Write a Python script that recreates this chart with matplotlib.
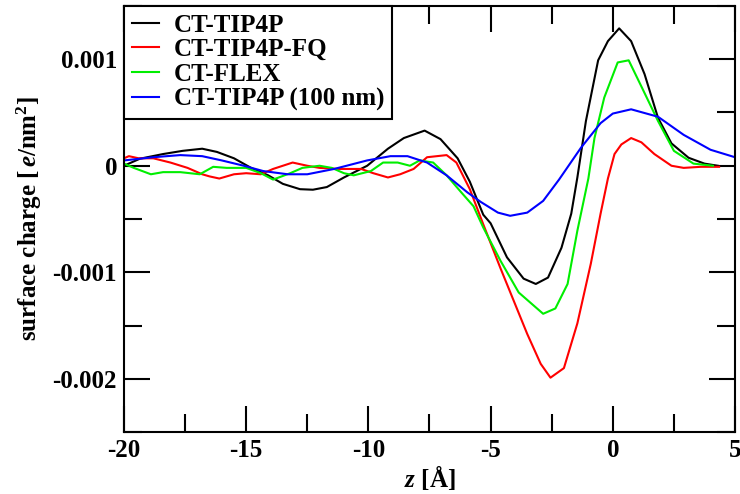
import matplotlib
matplotlib.use('Agg')
import matplotlib.pyplot as plt
import numpy as np

# CT-TIP4P
x_tip4p = [-20.0, -19.35, -18.4, -17.6, -16.8, -16.2, -15.5, -14.8, -14.1, -13.5, -12.8, -12.27,
           -11.7, -11.0, -10.05, -9.2, -8.55, -7.7, -7.05, -6.35, -5.85, -5.3, -5.0, -4.33,
           -3.65, -3.15, -2.65, -2.1, -1.7, -1.45, -1.1, -0.6, -0.2, 0.26, 0.75, 1.3, 1.85,
           2.4, 3.1, 3.75, 4.3]
y_tip4p = [0.0, 0.000066, 0.00011, 0.00014, 0.00016, 0.00013, 0.00007, -0.00002, -0.00009,
           -0.00017, -0.00022, -0.000225, -0.0002, -0.00011, 0.0, 0.00016, 0.00026, 0.00033,
           0.00025, 0.00007, -0.00015, -0.00046, -0.00054, -0.00086, -0.00106, -0.00111,
           -0.00105, -0.00077, -0.00045, -0.00011, 0.00042, 0.00099, 0.00117, 0.00129,
           0.00117, 0.00086, 0.00045, 0.00021, 0.000075, 0.00002, 0.0]

# CT-TIP4P-FQ
x_fq = [-20.0, -19.8, -19.4, -18.8, -18.1, -17.4, -16.8, -16.5, -16.1, -15.5, -15.0, -14.4,
        -13.9, -13.1, -12.5, -12.0, -11.2, -10.3, -9.8, -9.2, -8.7, -8.15, -7.6, -6.8,
        -6.4, -5.85, -5.3, -4.6, -4.05, -3.5, -2.95, -2.55, -2.0, -1.45, -0.9, -0.5, -0.2,
        0.07, 0.35, 0.75, 1.17, 1.7, 2.4, 2.9, 3.6, 4.35]
y_fq = [0.00007, 0.00009, 0.00007, 0.00007, 0.00003, -0.00002, -0.00008, -0.0001, -0.00012,
        -0.00008, -0.00007, -0.00008, -0.00003, 0.00003, 0.0, -0.00002, -0.00003, -0.00003,
        -0.00007, -0.00011, -0.00008, -0.00003, 0.00008, 0.0001, 0.00003, -0.00022, -0.00055,
        -0.00096, -0.00127, -0.00158, -0.00186, -0.00199, -0.0019, -0.00148, -0.00092,
        -0.00045, -0.00012, 0.00011, 0.0002, 0.00026, 0.00022, 0.00011, 0.0, -0.00002,
        -0.00001, -0.00001]

# CT-FLEX
x_flex = [-20.0, -19.6, -18.9, -18.4, -17.7, -16.9, -16.35, -15.8, -15.0, -14.4, -13.9, -13.2,
          -12.7, -12.0, -11.5, -11.0, -10.6, -9.9, -9.4, -8.8, -8.3, -7.9, -7.35, -6.8, -6.2,
          -5.7, -5.3, -4.6, -3.85, -2.85, -2.35, -1.85, -1.45, -1.0, -0.75, -0.35, 0.2, 0.65,
          1.2, 1.85, 2.5, 3.3, 4.1]
y_flex = [0.00002, -0.00002, -0.00008, -0.00006, -0.00006, -0.00008, -0.00001, -0.00002,
          -0.00002, -0.00007, -0.00013, -0.00007, -0.00002, 0.0, -0.00002, -0.00007, -0.00009,
          -0.00005, 0.00003, 0.00003, 0.0, 0.00005, 0.00003, -0.00009, -0.00025, -0.00038,
          -0.00058, -0.00089, -0.00119, -0.00139, -0.00134, -0.00111, -0.00061, -0.00012,
          0.00026, 0.00064, 0.00097, 0.00099, 0.00073, 0.00042, 0.00014, 0.00002, 0.0]

# CT-TIP4P (100 nm)
x_100 = [-20.0, -18.8, -17.7, -16.8, -16.0, -15.1, -14.3, -13.3, -12.5, -11.4, -10.05, -9.1,
         -8.4, -7.6, -6.8, -5.95, -5.4, -4.7, -4.2, -3.5, -2.85, -2.2, -1.3, -0.5, 0.0, 0.75,
         1.85, 2.9, 4.0, 5.0]
y_100 = [0.00005, 0.00008, 0.0001, 0.00009, 0.00005, 0.0, -0.00005, -0.00008, -0.00008,
         -0.00003, 0.00005, 0.00009, 0.00009, 0.00003, -0.00009, -0.00025, -0.00034, -0.00044,
         -0.00047, -0.00044, -0.00033, -0.00013, 0.00017, 0.0004, 0.00049, 0.00053, 0.00046,
         0.00029, 0.00015, 0.00008]

series = [
    (x_tip4p, y_tip4p, 'black', 'CT-TIP4P'),
    (x_fq, y_fq, 'red', 'CT-TIP4P-FQ'),
    (x_flex, y_flex, '#00ee00', 'CT-FLEX'),
    (x_100, y_100, 'blue', 'CT-TIP4P (100 nm)'),
]

plt.rcParams['font.family'] = ['Liberation Serif']
plt.rcParams['font.weight'] = 'bold'
plt.rcParams['axes.labelweight'] = 'bold'
plt.rcParams['mathtext.fontset'] = 'custom'
plt.rcParams['mathtext.rm'] = 'Liberation Serif:bold'
plt.rcParams['mathtext.it'] = 'Liberation Serif:italic'

fig = plt.figure(figsize=(7.4, 4.94), dpi=100)
ax = fig.add_axes([124 / 740, 1 - 432 / 494, (735 - 124) / 740, (432 - 6) / 494])

for xs, ys, c, lab in series:
    ax.plot(xs, ys, color=c, lw=1.5, label=lab)

ax.set_xlim(-20, 5)
ax.set_ylim(-0.0025, 0.0015)
ax.set_xticks(np.arange(-20, 6, 5))
ax.set_xticks(np.arange(-17.5, 5, 5), minor=True)
ax.set_yticks([-0.002, -0.001, 0, 0.001])
ax.set_yticks([-0.0025, -0.0015, -0.0005, 0.0005, 0.0015], minor=True)
ax.set_yticklabels(['-0.002', '-0.001', '0', '0.001'])
ax.set_xticklabels(['-20', '-15', '-10', '-5', '0', '5'])

ax.tick_params(which='both', direction='in', top=True, right=True, width=1.5, labelsize=18)
ax.tick_params(which='major', length=19, pad=5)
ax.tick_params(which='minor', length=13)
for s in ax.spines.values():
    s.set_linewidth(1.5)

ax.set_xlabel(r'$\mathit{z}$ [Å]', fontsize=18, labelpad=1)
ax.set_ylabel(r'surface charge [$\,\mathit{e}$/nm$^2$]', fontsize=18, labelpad=6)

leg = ax.legend(loc='upper left', bbox_to_anchor=(0, 1), borderaxespad=0, fontsize=18,
                handlelength=1.1, handletextpad=0.6, labelspacing=0.07, borderpad=0.3,
                fancybox=False, framealpha=1)
leg.get_frame().set_edgecolor('black')
leg.get_frame().set_linewidth(1.5)

fig.savefig('out.png', dpi=100)
